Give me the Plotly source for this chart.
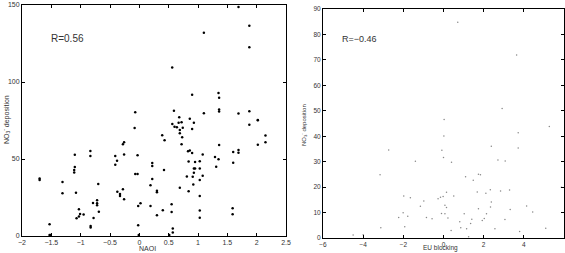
import plotly.graph_objects as go

# Left panel: NAOI vs NO3 deposition
naoi = [1.69, 1.875, 1.10, 1.875, 0.56, 0.90, 1.35, 1.36, -0.07, 0.59, 1.36, 1.36, 1.10, 1.69,
        1.875, 0.68, 0.86, 2.02, 1.875,
        0.5625, 0.60, 0.64, 0.69, 0.67, 0.72, 0.74, 0.93, 0.90, 0.69, 0.73, 0.72,
        2.02, 2.15, 2.15, 2.02, 0.39, 0.43, -0.08, -0.26, -0.28, -0.26, -0.41, -0.38, -0.41,
        -0.03, -0.835, -0.835, -1.10, -1.10, -1.11, -1.11, -1.70, -1.70, -1.31, -1.31, -1.08,
        -0.70, -0.07, -0.03, 0.22, 0.22, 0.22, 0.19, 0.42, 0.30, 0.30, -0.375, -0.33, -0.28,
        -0.33, -0.26, -0.72, -0.72, -0.79, -0.72, -0.69, -1.03, -1.01, -1.03, -1.07, -0.95,
        -0.78, -0.83, -0.83, -1.53, -1.53, -1.51, 0.02, -0.02, 0.19, 0.40, 0.30, -0.02, -0.01,
        0.55, 0.55, 0.57, 0.57, 0.51, 0.83, 0.86, 0.90, 1.08, 0.84, 0.95, 1.03, 0.95, 0.93,
        1.03, 0.93, 0.81, 0.91, 1.08, 1.03, 0.92, 0.69, 0.84, 1.03, 1.03, 1.03, 1.36, 1.29,
        1.35, 1.31, 1.60, 1.60, 1.69, 1.69, 1.59, 1.59]
no3_left = [148.7, 136.5, 131.9, 122.5, 109.4, 91.7, 92.8, 89.7, 80.3, 81.4, 82.1, 80.8, 79.7, 79.5,
            81.0, 77.1, 76.2, 75.1, 72.3,
            72.7, 71.0, 70.6, 68.8, 73.6, 73.8, 70.3, 73.6, 69.5, 66.7, 64.1, 59.5,
            75.3, 65.2, 60.8, 59.3, 65.4, 62.1, 70.1, 60.8, 59.5, 53.0, 51.9, 48.9, 46.3,
            52.4, 55.2, 51.9, 52.8, 44.8, 42.9, 41.3, 37.4, 36.4, 35.1, 27.7, 28.1,
            33.8, 40.3, 40.3, 47.4, 45.5, 37.0, 32.9, 42.9, 29.4, 28.4, 28.8, 27.3, 30.3,
            26.0, 23.8, 23.2, 21.2, 21.4, 19.9, 15.8, 17.3, 14.3, 12.6, 11.5, 13.9,
            11.7, 6.5, 5.6, 7.6, 0.6, 0.6, 21.2, 19.5, 19.5, 16.7, 13.4, 6.9, 0.6,
            20.6, 15.6, 4.8, 2.2, 0.6, 55.0, 55.6, 53.9, 53.0, 48.3, 48.1, 48.5, 43.9, 43.9,
            43.9, 41.1, 38.7, 38.5, 39.2, 36.4, 33.5, 31.4, 29.0, 26.0, 16.5, 11.9, 59.1, 51.3,
            49.8, 45.0, 54.5, 47.6, 55.8, 54.1, 18.0, 14.1]

# Right panel: EU blocking vs NO3 deposition
eu_blocking = [0.71, 3.64, 2.92, 0.03, 5.27, 3.72, 0.02, 3.72, 2.38, -0.08, -2.73, 0.0, 0.40,
               -1.40, 2.71, 3.07, -3.16, 1.74, 1.84, 1.10, 1.48, 5.87, 0.15, 1.68, 2.11, 2.33,
               2.84, 3.29, -1.98, -1.65, -0.98, -0.27, -0.15, -0.02, 0.51, -1.15, 0.07, 0.15,
               2.38, 2.34, 1.74, 3.32, 4.14, 4.44, -2.01, -2.23, -1.78, -0.85, -0.57, -0.10,
               0.07, 0.22, 1.03, 2.03, 2.14, 1.41, 1.93, 0.81, 1.35, 0.86, 1.15, 0.38, -3.12,
               -1.93, 2.56, 3.06, 3.79, 5.09, 1.25, -4.0, -4.5]
no3_right = [84.8, 71.9, 50.9, 46.6, 43.8, 41.4, 40.1, 35.4, 36.1, 34.5, 34.6, 31.6, 29.8,
             30.2, 30.7, 30.3, 24.9, 25.1, 24.9, 24.1, 22.7, 19.9, 18.0, 18.1, 17.6, 19.0,
             18.5, 18.9, 16.5, 15.8, 14.5, 15.4, 16.0, 16.3, 16.5, 12.5, 12.9, 12.0,
             14.1, 12.2, 11.5, 11.2, 12.6, 10.2, 9.9, 8.1, 8.5, 8.1, 7.6, 9.6,
             9.5, 7.9, 9.5, 7.7, 9.5, 7.4, 6.9, 6.4, 5.7, 4.0, 3.6, 2.9, 4.0,
             4.4, 3.6, 7.3, 2.6, 3.8, 0.5, 1.3, 1.2]

left_xticks = [-2, -1.5, -1, -0.5, 0, 0.5, 1, 1.5, 2, 2.5]
left_yticks = [0, 50, 100, 150]
right_xticks = [-6, -4, -2, 0, 2, 4, 6]
right_yticks = [0, 10, 20, 30, 40, 50, 60, 70, 80, 90]

W, H = 565, 253
FAM = "Liberation Sans, Arial, sans-serif"
font = dict(family=FAM, size=7, color="#333")

fig = go.Figure()
fig.add_trace(go.Scatter(x=naoi, y=no3_left, mode="markers", xaxis="x", yaxis="y",
                         marker=dict(color="black", size=2.5), showlegend=False))
fig.add_trace(go.Scatter(x=eu_blocking, y=no3_right, mode="markers", xaxis="x2", yaxis="y2",
                         marker=dict(color="#888", size=1.5), showlegend=False))

ax = dict(showgrid=False, zeroline=False, showline=True, linecolor="black", linewidth=1,
          mirror="ticks", ticks="inside", ticklen=3, tickcolor="black", tickwidth=1,
          tickfont=font, automargin=False)


def lbl(v):
    return ("−" if v < 0 else "") + f"{abs(v):g}"


fig.update_layout(
    width=W, height=H, margin=dict(l=0, r=0, t=0, b=0),
    paper_bgcolor="white", plot_bgcolor="white", font=font,
    xaxis=dict(ax, domain=[22 / W, 286 / W], range=[-2, 2.5], tickvals=left_xticks,
               ticktext=[lbl(v) for v in left_xticks], anchor="y"),
    yaxis=dict(ax, domain=[1 - 236 / H, 1 - 5 / H], range=[0, 150], tickvals=left_yticks, anchor="x"),
    xaxis2=dict(ax, domain=[323 / W, 564 / W], range=[-6, 6], tickvals=right_xticks,
                ticktext=[lbl(v) for v in right_xticks], anchor="y2",
                tickfont=dict(font, size=6.5)),
    yaxis2=dict(ax, domain=[1 - 238 / H, 1 - 9 / H], range=[0, 90], tickvals=right_yticks, anchor="x2",
                tickfont=dict(font, size=6.5)),
)

ann = [
    dict(text="R=0.56", x=-1.23, y=128.5, xref="x", yref="y", showarrow=False,
         xanchor="center", yanchor="middle", font=dict(family=FAM, size=10, color="#333")),
    dict(text="R=−0.46", x=-4.17, y=78.3, xref="x2", yref="y2", showarrow=False,
         xanchor="center", yanchor="middle", font=dict(family=FAM, size=9, color="#333")),
    dict(text="NAOI", x=147 / W, y=1 - 248 / H, xref="paper", yref="paper", showarrow=False,
         xanchor="center", yanchor="middle", font=font),
    dict(text="EU blocking", x=441 / W, y=1 - 253 / H, xref="paper", yref="paper", showarrow=False,
         xanchor="center", yanchor="bottom", borderpad=0, font=dict(font, size=6.5)),
    dict(text="NO<sub>3</sub><sup>-</sup> deposition", x=7 / W, y=1 - 120 / H, xref="paper",
         yref="paper", showarrow=False, textangle=-90, xanchor="center", yanchor="middle",
         font=font),
    dict(text="NO<sub>3</sub><sup>-</sup> deposition", x=303 / W, y=1 - 125 / H, xref="paper",
         yref="paper", showarrow=False, textangle=-90, xanchor="center", yanchor="middle",
         font=dict(font, size=6)),
]
fig.update_layout(annotations=ann)

fig.write_html("out.html")
